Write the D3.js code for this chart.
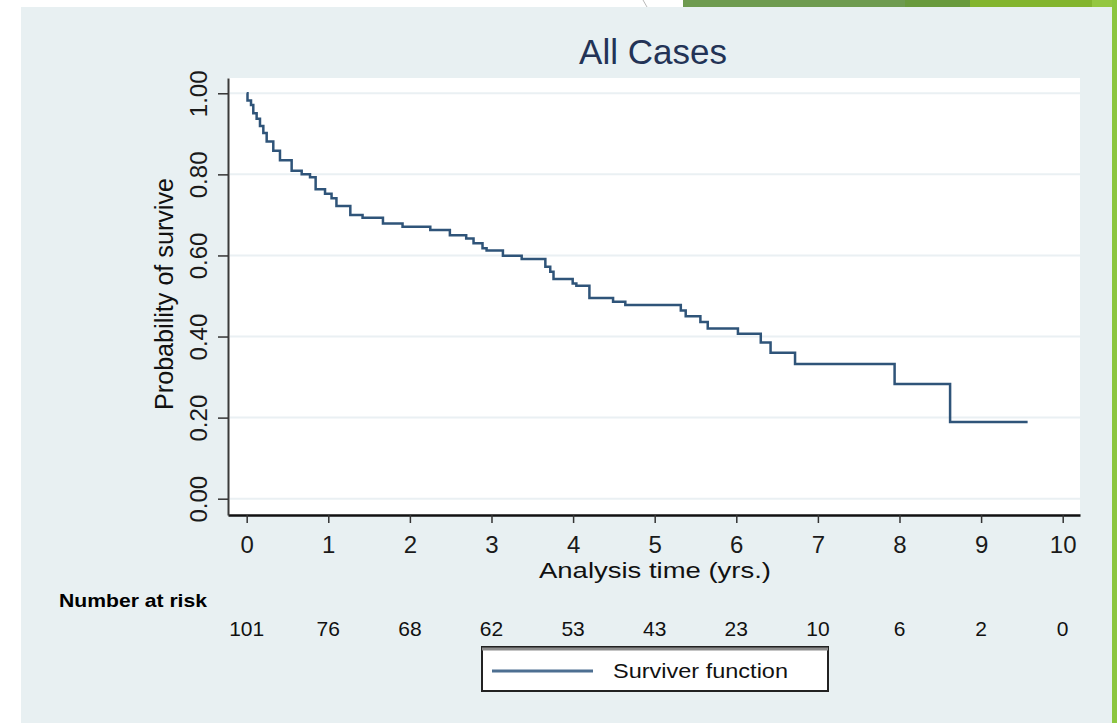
<!DOCTYPE html>
<html>

<head>
    <meta charset="utf-8">
    <title>All Cases</title>
    <script src="https://d3js.org/d3.v7.min.js"></script>
    <style>
        body {
            margin: 0;
            padding: 0;
            background: #ffffff;
            font-family: 'Liberation Sans', Arial, sans-serif;
        }

        .svg-container {
            width: 1117px;
            height: 723px;
        }
    </style>
</head>

<body>
    <div class='svg-container'></div>
    <script>
        // survival curve: event times (yrs) and survival right after each drop
        const times = [0, 0.01, 0.053, 0.081, 0.122, 0.163, 0.204, 0.245, 0.326, 0.408, 0.551, 0.674, 0.776, 0.845,
            0.96, 1.04, 1.10, 1.27, 1.42, 1.67, 1.91, 2.25, 2.49, 2.69, 2.78, 2.89, 2.94, 3.14, 3.37, 3.66, 3.72,
            3.76, 3.995, 4.04, 4.20, 4.49, 4.64, 5.32, 5.38, 5.56, 5.65, 6.02, 6.30, 6.42, 6.72, 7.94, 8.62, 9.57]
        const survival = [1.0, 0.982, 0.971, 0.951, 0.937, 0.919, 0.902, 0.881, 0.858, 0.835, 0.809, 0.800, 0.793, 0.763,
            0.752, 0.741, 0.722, 0.700, 0.693, 0.679, 0.671, 0.663, 0.650, 0.642, 0.630, 0.618, 0.612, 0.599, 0.591, 0.572, 0.560,
            0.542, 0.531, 0.525, 0.495, 0.486, 0.478, 0.464, 0.450, 0.436, 0.420, 0.407, 0.385, 0.360, 0.332, 0.283, 0.189, 0.189]

        const xTicks = [0, 1, 2, 3, 4, 5, 6, 7, 8, 9, 10]
        const yTicks = [0, 0.2, 0.4, 0.6, 0.8, 1.0]
        const atRisk = [101, 76, 68, 62, 53, 43, 23, 10, 6, 2, 0]

        const title = 'All Cases'
        const xTitle = 'Analysis time (yrs.)'
        const yTitle = 'Probability of survive'
        const riskTitle = 'Number at risk'
        const legendLabel = 'Surviver function'

        const w = 1117
        const h = 723
        const plot = { left: 228, right: 1080, top: 78, bottom: 515 }
        const font = "'Liberation Sans', Arial, sans-serif"

        const svg = d3.select('.svg-container')
            .append('svg')
            .attr('width', w)
            .attr('height', h)

        // slide decoration: panel, green strips
        svg.append('rect')
            .attr('x', 21).attr('y', 7)
            .attr('width', 1091).attr('height', h - 7)
            .attr('fill', '#e8f0f2')

        const greens = [
            { x0: 683, x1: 905, c: '#6e9b50' },
            { x0: 905, x1: 970, c: '#699a3d' },
            { x0: 970, x1: 1092, c: '#83b52e' },
            { x0: 1092, x1: 1117, c: '#94c741' }
        ]
        svg.selectAll('.green-top')
            .data(greens)
            .enter()
            .append('rect')
            .attr('class', 'green-top')
            .attr('x', d => d.x0).attr('y', 0)
            .attr('width', d => d.x1 - d.x0).attr('height', 7)
            .attr('fill', d => d.c)
        svg.append('rect')
            .attr('x', 1112).attr('y', 0)
            .attr('width', 5).attr('height', h)
            .attr('fill', '#8cc63e')
        svg.append('line')
            .attr('x1', 643).attr('y1', 0).attr('x2', 647).attr('y2', 7)
            .attr('stroke', '#b9b9b9').attr('stroke-width', 1)

        // plot region
        svg.append('rect')
            .attr('x', plot.left).attr('y', plot.top)
            .attr('width', plot.right - plot.left).attr('height', plot.bottom - plot.top)
            .attr('fill', '#ffffff')

        const xScale = d3.scaleLinear()
            .domain([-0.229, 10.212])
            .range([plot.left, plot.right])
        const yScale = d3.scaleLinear()
            .domain([-0.0402, 1.0377])
            .range([plot.bottom, plot.top])

        // grid
        svg.selectAll('.grid')
            .data(yTicks)
            .enter()
            .append('line')
            .attr('class', 'grid')
            .attr('x1', plot.left + 2).attr('x2', plot.right)
            .attr('y1', d => yScale(d)).attr('y2', d => yScale(d))
            .attr('stroke', '#eaf0f3')
            .attr('stroke-width', 2)

        // x axis
        const xAxis = svg.append('g')
            .attr('transform', `translate(0,${plot.bottom})`)
            .attr('font-family', font)
            .call(d3.axisBottom(xScale).tickValues(xTicks).tickFormat(d3.format('d'))
                .tickSize(8).tickSizeOuter(0).tickPadding(13))
        xAxis.select('.domain').attr('stroke', '#111').attr('stroke-width', 2.5)
        xAxis.selectAll('.tick line').attr('stroke', '#333').attr('stroke-width', 1.5)
        xAxis.selectAll('.tick text')
            .attr('fill', '#1a1a1a')
            .style('font-family', font)
            .style('font-size', '24px')

        // y axis with rotated labels
        const yAxis = svg.append('g')
            .attr('transform', `translate(${plot.left},0)`)
            .attr('font-family', font)
            .call(d3.axisLeft(yScale).tickValues(yTicks).tickFormat(d3.format('.2f'))
                .tickSize(10).tickSizeOuter(0))
        yAxis.select('.domain').attr('stroke', '#3a3a3a').attr('stroke-width', 2)
        yAxis.selectAll('.tick line').attr('stroke', '#333').attr('stroke-width', 1.5)
        yAxis.selectAll('.tick text')
            .attr('x', null).attr('dy', null)
            .attr('transform', 'translate(-21,0) rotate(-90)')
            .attr('text-anchor', 'middle')
            .attr('fill', '#1a1a1a')
            .style('font-family', font)
            .style('font-size', '24px')

        // survival curve
        const line = d3.line()
            .x((d, i) => xScale(times[i]))
            .y(d => yScale(d))
            .curve(d3.curveStepAfter)

        svg.append('path')
            .datum(survival)
            .attr('d', line)
            .attr('fill', 'none')
            .attr('stroke', '#2f5479')
            .attr('stroke-width', 2.5)

        // titles
        svg.append('text')
            .attr('x', 653).attr('y', 64)
            .attr('text-anchor', 'middle')
            .attr('fill', '#233356')
            .style('font-family', font)
            .style('font-size', '35px')
            .text(title)

        svg.append('text')
            .attr('x', 655).attr('y', 578)
            .attr('text-anchor', 'middle')
            .attr('textLength', 232)
            .attr('lengthAdjust', 'spacingAndGlyphs')
            .attr('fill', '#111')
            .style('font-family', font)
            .style('font-size', '22px')
            .text(xTitle)

        svg.append('text')
            .attr('transform', 'translate(173,294) rotate(-90)')
            .attr('text-anchor', 'middle')
            .attr('textLength', 232)
            .attr('lengthAdjust', 'spacingAndGlyphs')
            .attr('fill', '#111')
            .style('font-family', font)
            .style('font-size', '25px')
            .text(yTitle)

        // number at risk
        svg.append('text')
            .attr('x', 59).attr('y', 607)
            .attr('textLength', 148)
            .attr('lengthAdjust', 'spacingAndGlyphs')
            .attr('fill', '#000')
            .style('font-family', font)
            .style('font-size', '19px')
            .style('font-weight', 'bold')
            .text(riskTitle)

        svg.selectAll('.risk')
            .data(atRisk)
            .enter()
            .append('text')
            .attr('class', 'risk')
            .attr('x', (d, i) => xScale(xTicks[i]))
            .attr('y', 636)
            .attr('text-anchor', 'middle')
            .attr('fill', '#111')
            .style('font-family', font)
            .style('font-size', '21px')
            .text(d => d)

        // legend
        const legend = svg.append('g').attr('id', 'legend')
        legend.append('rect')
            .attr('x', 482).attr('y', 647)
            .attr('width', 346).attr('height', 44)
            .attr('fill', '#ffffff')
            .attr('stroke', '#222')
            .attr('stroke-width', 2)
        legend.append('line')
            .attr('x1', 482).attr('x2', 828)
            .attr('y1', 649).attr('y2', 649)
            .attr('stroke', '#8c8c8c')
            .attr('stroke-width', 3)
        legend.append('line')
            .attr('x1', 492).attr('x2', 593)
            .attr('y1', 671).attr('y2', 671)
            .attr('stroke', '#4d6f91')
            .attr('stroke-width', 3)
        legend.append('text')
            .attr('x', 613).attr('y', 678)
            .attr('textLength', 175)
            .attr('lengthAdjust', 'spacingAndGlyphs')
            .attr('fill', '#111')
            .style('font-family', font)
            .style('font-size', '21px')
            .text(legendLabel)
    </script>
</body>

</html>
